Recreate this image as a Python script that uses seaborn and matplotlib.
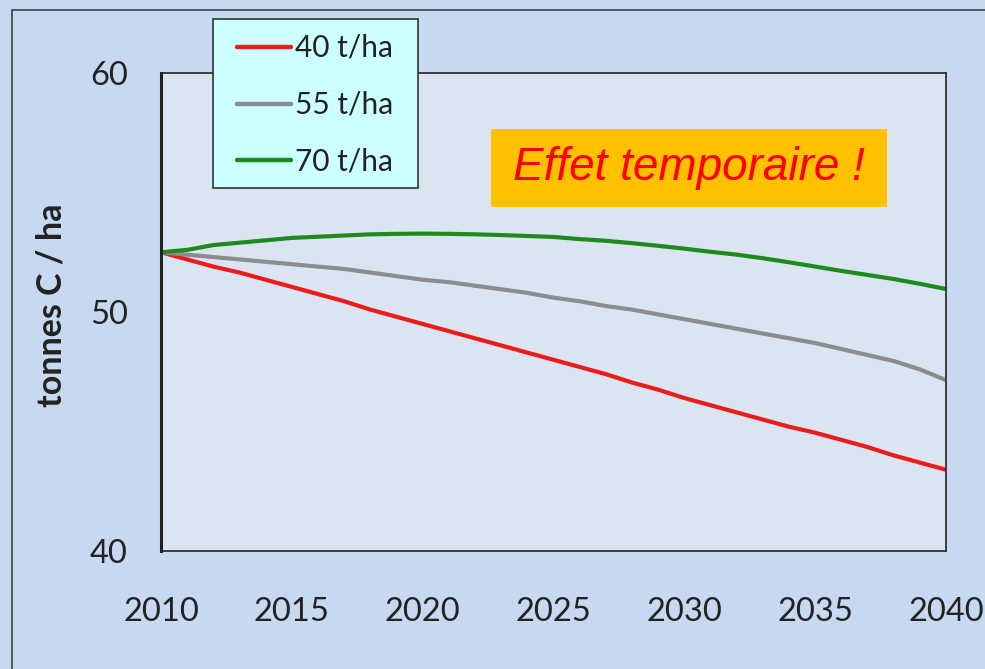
import pandas as pd
import matplotlib.pyplot as plt
import seaborn as sns
from matplotlib.patches import Rectangle

# data
years = list(range(2010, 2041))
c40 = [52.5, 52.2, 51.9, 51.65, 51.35, 51.05, 50.75, 50.45, 50.1, 49.8,
       49.5, 49.2, 48.9, 48.6, 48.3, 48.0, 47.7, 47.4, 47.05, 46.75,
       46.4, 46.1, 45.8, 45.5, 45.2, 44.95, 44.65, 44.35, 44.0, 43.7, 43.4]
c55 = [52.5, 52.4, 52.3, 52.2, 52.1, 52.0, 51.9, 51.8, 51.65, 51.5,
       51.35, 51.25, 51.1, 50.95, 50.8, 50.6, 50.45, 50.25, 50.1, 49.9,
       49.7, 49.5, 49.3, 49.1, 48.9, 48.7, 48.45, 48.2, 47.95, 47.6, 47.15]
c70 = [52.5, 52.6, 52.8, 52.9, 53.0, 53.1, 53.15, 53.2, 53.25, 53.27,
       53.28, 53.27, 53.25, 53.22, 53.18, 53.14, 53.05, 52.98, 52.88, 52.77,
       52.65, 52.52, 52.4, 52.25, 52.08, 51.9, 51.72, 51.55, 51.38, 51.18, 50.96]
labels = ['40 t/ha', '55 t/ha', '70 t/ha']
colors = ['#ec1c1c', '#8a8c90', '#1e8a1e']

df = pd.DataFrame({'annee': years * 3,
                   'carbone': c40 + c55 + c70,
                   'serie': [labels[0]] * 31 + [labels[1]] * 31 + [labels[2]] * 31})

sns.set_style('white')
plt.rcParams['font.family'] = ['Lato', 'DejaVu Sans']

W, H = 985, 669
fig = plt.figure(figsize=(W / 100, H / 100), dpi=100, facecolor='#c6d9f0')
# outer frame of the slide
fig.patches.append(Rectangle((12 / W, -0.1), 1.2, (H - 10) / H + 0.1,
                             transform=fig.transFigure, fill=False,
                             edgecolor='#404040', lw=1.2))
ax = fig.add_axes([161 / W, 118 / H, 785 / W, 478 / H])
ax.set_facecolor('#dbe5f1')

sns.lineplot(data=df, x='annee', y='carbone', hue='serie', palette=colors,
             linewidth=3, ax=ax, legend=False)

ax.set_xlim(2010, 2040)
ax.set_ylim(40, 60)
ax.set_xticks(range(2010, 2041, 5))
ax.set_yticks([40, 50, 60])
ax.tick_params(axis='both', labelsize=23.5, colors='#222222', direction='out',
               width=1.2)
ax.tick_params(axis='x', length=9, pad=24)
ax.tick_params(axis='y', length=8, pad=16)
for s in ax.spines.values():
    s.set_color('#222222')
    s.set_linewidth(1.2)
ax.spines['left'].set_linewidth(2.2)
ax.set_xlabel('')
ax.set_ylabel('tonnes C / ha', fontsize=24.5, fontweight='bold', color='#222222')
ax.yaxis.set_label_coords((52 - 161) / 785, (551 - 305) / 478)
ax.yaxis.label.set_va('center')

# legend box (Excel style, drawn separately so the paddings can differ)
fig.patches.append(Rectangle((213 / W, 1 - 188 / H), 205 / W, 169 / H,
                             transform=fig.transFigure, facecolor='#ccffff',
                             edgecolor='#333333', lw=1.2, zorder=5))
handles = [plt.Line2D([], [], color=c, lw=3.2) for c in colors]
leg = fig.legend(handles, labels, loc='upper left',
                 bbox_to_anchor=(237 / W, 1 - 34 / H), fontsize=21.5,
                 frameon=False, handlelength=1.8, handletextpad=0.15,
                 labelspacing=0.97, borderpad=0, borderaxespad=0)
leg.set_zorder(6)
for t in leg.get_texts():
    t.set_color('#222222')

# "Effet temporaire !" label on an orange box
fig.patches.append(Rectangle((491 / W, 1 - 207 / H), 396 / W, 78 / H,
                             transform=fig.transFigure, facecolor='#ffc000',
                             edgecolor='none', zorder=5))
fig.text(689 / W, 1 - 168 / H, 'Effet temporaire !', fontsize=33,
         style='italic', color='#ff0000', family=['Liberation Sans', 'DejaVu Sans'],
         ha='center', va='center', zorder=6)

fig.savefig('out.png', dpi=100, facecolor=fig.get_facecolor())
